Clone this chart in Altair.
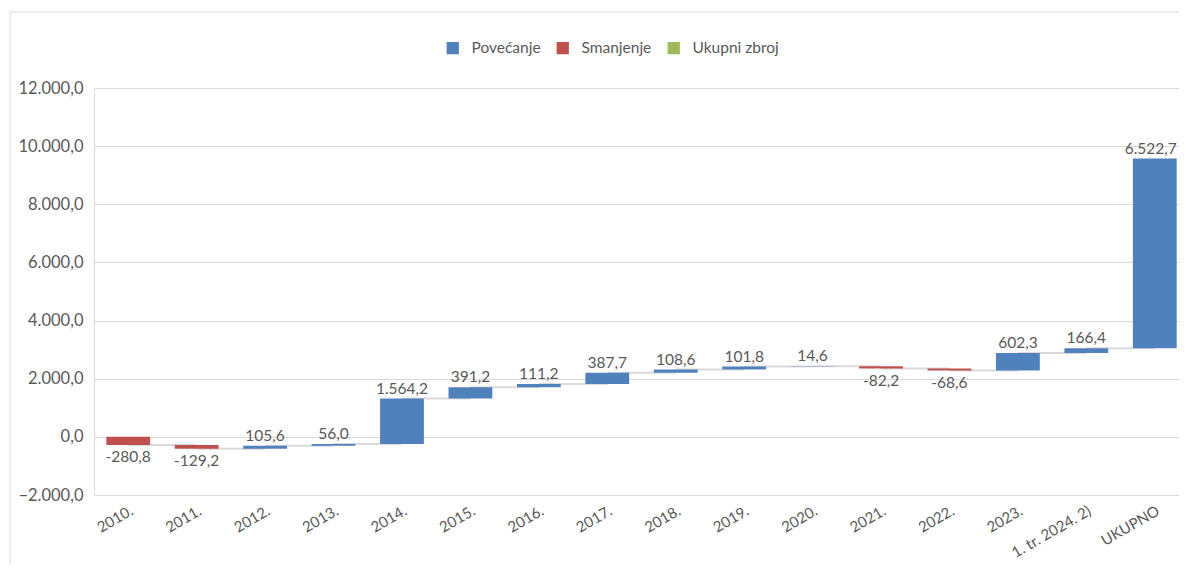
import altair as alt
import pandas as pd

categories = ["2010.", "2011.", "2012.", "2013.", "2014.", "2015.", "2016.", "2017.",
              "2018.", "2019.", "2020.", "2021.", "2022.", "2023.", "1. tr. 2024. 2)", "UKUPNO"]
values = [-280.8, -129.2, 105.6, 56.0, 1564.2, 391.2, 111.2, 387.7,
          108.6, 101.8, 14.6, -82.2, -68.6, 602.3, 166.4, 6522.7]
series_names = ["Povećanje", "Smanjenje", "Ukupni zbroj"]
series_colors = ["#4F81BD", "#C0504D", "#9BBB59"]
y_ticks = [-2000, 0, 2000, 4000, 6000, 8000, 10000, 12000]


def hr(v):
    s = f"{v:,.1f}"
    return s.replace(",", "_").replace(".", ",").replace("_", ".")


rows = []
cum = 0.0
for i, (c, v) in enumerate(zip(categories, values)):
    start = cum
    end = cum + v
    rows.append({
        "cat": c, "start": start, "end": end,
        "type": "Povećanje" if v >= 0 else "Smanjenje",
        "label": hr(v),
        "top": max(start, end), "bottom": min(start, end),
        "pos": v >= 0,
        "last": i == len(categories) - 1,
    })
    cum = end
df = pd.DataFrame(rows)

conn = pd.DataFrame([
    {"cat": categories[i], "cat2": categories[i + 1], "level": rows[i]["end"]}
    for i in range(len(categories) - 1)
])

W, H = 1085, 407
FONT = "Lato"
TXT = "#595959"
GRID = "#D9D9D9"

xscale = alt.Scale(domain=categories, paddingInner=0.36, paddingOuter=0.18, range=[0, 1095])
yscale = alt.Scale(domain=[-2000, 12000], nice=False, zero=False)

xenc = alt.X("cat:N", scale=xscale, sort=categories,
             axis=alt.Axis(title=None, labelAngle=-30, labelAlign="right", labelBaseline="top",
                           domain=False, ticks=False, labelPadding=8, labelFontSize=15,
                           labelFont=FONT, labelColor=TXT))

border = alt.Chart(pd.DataFrame({"b": [0]})).mark_rect(
    fill=None, stroke=GRID, strokeWidth=1
).encode(x=alt.value(-84), x2=alt.value(W + 40), y=alt.value(-76), y2=alt.value(H + 120))

connectors = alt.Chart(conn).mark_rule(color=GRID, strokeWidth=2).encode(
    x=alt.X("cat:N", scale=xscale, sort=categories),
    x2="cat2:N",
    y=alt.Y("level:Q", scale=yscale),
)

bars = alt.Chart(df).mark_bar().encode(
    x=xenc,
    y=alt.Y("start:Q", scale=yscale,
            axis=alt.Axis(title=None, values=y_ticks, grid=True, gridColor=GRID, gridWidth=1,
                          domain=True, domainColor=GRID, ticks=False, labelPadding=11,
                          labelFontSize=16.5, labelFont=FONT, labelColor=TXT,
                          labelExpr="replace(replace(replace(format(datum.value, ',.1f'), ',', '_'), '.', ','), '_', '.')")),
    y2="end:Q",
    color=alt.Color("type:N", scale=alt.Scale(domain=series_names, range=series_colors),
                    legend=alt.Legend(title=None, orient="none", direction="horizontal",
                                      legendX=351, legendY=-48, symbolType="square",
                                      symbolSize=150, symbolStrokeWidth=0, symbolOpacity=1,
                                      labelFont=FONT, labelFontSize=15.5, labelColor=TXT,
                                      columnPadding=14, labelOffset=11)),
)

labels_pos = alt.Chart(df).transform_filter("datum.pos && !datum.last").mark_text(
    baseline="alphabetic", dy=-5, font=FONT, fontSize=15.5, color=TXT
).encode(
    x=alt.X("cat:N", scale=xscale, sort=categories),
    y=alt.Y("top:Q", scale=yscale),
    text="label:N",
)

labels_last = alt.Chart(df).transform_filter("datum.last").mark_text(
    baseline="alphabetic", dy=-5, dx=-4, font=FONT, fontSize=15.5, color=TXT
).encode(
    x=alt.X("cat:N", scale=xscale, sort=categories),
    y=alt.Y("top:Q", scale=yscale),
    text="label:N",
)

labels_neg = alt.Chart(df).transform_filter("!datum.pos").mark_text(
    baseline="top", dy=5, font=FONT, fontSize=15.5, color=TXT
).encode(
    x=alt.X("cat:N", scale=xscale, sort=categories),
    y=alt.Y("bottom:Q", scale=yscale),
    text="label:N",
)

chart = alt.layer(border, connectors, bars, labels_pos, labels_last, labels_neg).properties(
    width=W, height=H,
    autosize=alt.AutoSizeParams(type="none"),
    padding={"left": 86, "top": 80, "right": 0, "bottom": 70},
).configure_view(stroke=None).configure(background="white")

chart.save("out.html", embed_options={"renderer": "svg", "actions": False})
